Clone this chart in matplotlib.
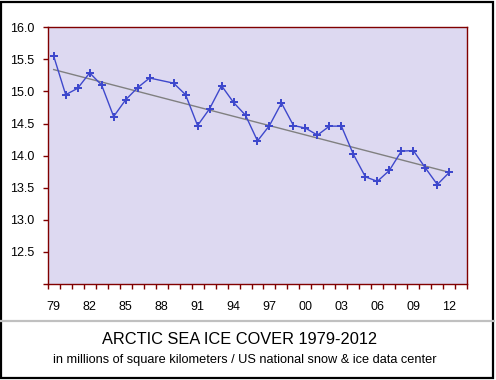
import numpy as np
import matplotlib.pyplot as plt
from matplotlib.patches import Rectangle
from matplotlib.lines import Line2D

plt.rcParams['font.family'] = ['Liberation Sans', 'DejaVu Sans']

# yearly values, 1988 has no data
years = [1979, 1980, 1981, 1982, 1983, 1984, 1985, 1986, 1987,
         1989, 1990, 1991, 1992, 1993, 1994, 1995, 1996, 1997, 1998,
         1999, 2000, 2001, 2002, 2003, 2004, 2005, 2006, 2007, 2008,
         2009, 2010, 2011, 2012]
ice = [15.55, 14.95, 15.05, 15.29, 15.10, 14.61, 14.87, 15.06, 15.21,
       15.13, 14.95, 14.47, 14.73, 15.09, 14.83, 14.63, 14.23, 14.47, 14.82,
       14.47, 14.43, 14.32, 14.46, 14.46, 14.02, 13.67, 13.60, 13.77, 14.07,
       14.08, 13.81, 13.55, 13.74]
x_labels = ['79', '82', '85', '88', '91', '94', '97', '00', '03', '06', '09', '12']
y_ticks = [12.0, 12.5, 13.0, 13.5, 14.0, 14.5, 15.0, 15.5, 16.0]

x = np.array(years) - 1979
y = np.array(ice)

fig = plt.figure(figsize=(4.96, 3.80), dpi=100)
ax = fig.add_axes([0.0962, 0.2526, 0.8459, 0.6755])
ax.set_facecolor('#DDD9F1')

# linear trend
k, b = np.polyfit(x, y, 1)
tx = np.array([0, 33])
ax.plot(tx, k * tx + b, color='#808080', lw=1.0, zorder=2)

ax.plot(x, y, color='#3E48CC', lw=1.0, marker='P', markersize=5.5,
        markeredgewidth=0, zorder=3)

ax.set_xlim(-0.5, 34.5)
ax.set_ylim(12.0, 16.0)

ax.set_xticks(np.arange(0, 34, 3))
ax.set_xticklabels(x_labels)
ax.set_xticks(np.arange(-0.5, 35, 1), minor=True)
ax.tick_params(axis='x', which='major', length=0, pad=12, labelsize=9)
ax.tick_params(axis='x', which='minor', length=3.5, direction='out',
               color='#800000', width=1)

ax.set_yticks(y_ticks)
ax.set_yticklabels([''] + ['%.1f' % v for v in y_ticks[1:]])
ax.tick_params(axis='y', length=3.5, direction='out', color='#800000',
               width=1, pad=6, labelsize=9)

for s in ax.spines.values():
    s.set_color('#800000')
    s.set_linewidth(1)

# separator and frame
fig.add_artist(Line2D([0, 494 / 496], [1 - 321 / 380, 1 - 321 / 380],
                      transform=fig.transFigure, color='#C0C0C0', lw=1.6))
fig.add_artist(Rectangle((0.002, 0.006), 0.992, 0.99, transform=fig.transFigure,
                         fill=False, edgecolor='black', lw=1.6))

fig.text(240 / 496, 1 - 339.5 / 380, 'ARCTIC SEA ICE COVER 1979-2012',
         ha='center', va='center', fontsize=11.8)
fig.text(245 / 496, 1 - 360 / 380,
         'in millions of square kilometers / US national snow & ice data center',
         ha='center', va='center', fontsize=9.2)

fig.savefig('out.png', dpi=100)
